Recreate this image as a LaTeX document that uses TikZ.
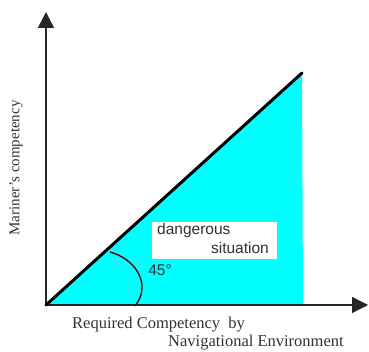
\documentclass[tikz,border=0pt]{standalone}
\usepackage{fontspec}
\setmainfont{Liberation Serif}
\newfontfamily\arialfont{Liberation Sans}
\usetikzlibrary{arrows.meta}
\usetikzlibrary{positioning}

\definecolor{zonecyan}{RGB}{0,255,255}
\definecolor{arcred}{RGB}{100,0,0}
\definecolor{labelgray}{RGB}{50,50,50}

\tikzset{
  axisline/.style={draw=black!85, line width=1.3pt, -{Triangle[length=16pt,width=16pt]}},
  axislabel/.style={text=labelgray, font=\fontsize{16.5}{18}\selectfont, inner sep=0pt},
  sanslabel/.style={text=labelgray, font=\arialfont\fontsize{15.5}{17}\selectfont, inner sep=0pt}
}

\begin{document}
\begin{tikzpicture}[x=1pt, y=1pt, line join=bevel]
  \useasboundingbox (0,0) rectangle (369,352);
  \coordinate (O) at (46,47);
  \coordinate (ytip) at (46,340);
  \coordinate (xtip) at (368,47);
  \coordinate (top) at (302,279);
  \coordinate (base) at (303,47);
  % the shaded zone under the line
  \fill[zonecyan] (O) -- (top) -- (base) -- cycle;
  \node[fill=white, minimum width=125pt, minimum height=37pt, inner sep=0pt] (box) at (214.5,111.5) {};
  \node[sanslabel, anchor=base west] (dangerous) at (157,117) {dangerous};
  \node[sanslabel, anchor=base east] (situation) at (269,98) {situation};
  % axes
  \draw[axisline] (O) -- (ytip);
  \draw[axisline] (O) -- (xtip);
  \draw[line width=3pt, line cap=round] (O) -- (top);
  % angle mark
  \coordinate (arcstart) at (110,100);
  \coordinate (arcend) at (135,46);
  \draw[arcred, line width=1.4pt] (arcstart) .. controls (136,93) and (152,67) .. (arcend);
  \node[sanslabel] (angle) at (160,82) {45\textdegree};
  % axis labels
  \node[axislabel, rotate=90, font=\fontsize{15}{17}\selectfont] (ylabel) at (16,184) {Mariner's competency};
  \node[axislabel, anchor=base west] (xlabel) at (72,23) {Required Competency\ \ by};
  \node[axislabel, anchor=base west] (xlabel2) at (168,5) {Navigational Environment};
\end{tikzpicture}
\end{document}
